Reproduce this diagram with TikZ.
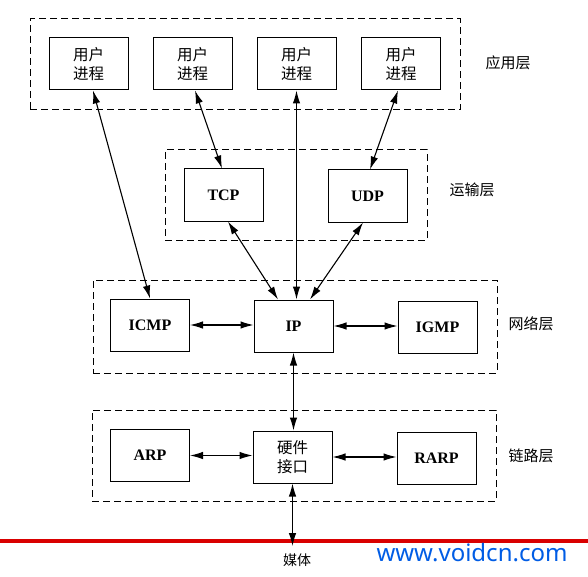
\documentclass[tikz,border=0pt]{standalone}
\usepackage{fontspec}
\setmainfont{Liberation Serif}
\newfontfamily\cjk{Noto Sans CJK SC}
\newfontfamily\webfont{Noto Sans}
\usetikzlibrary{arrows.meta,calc,positioning}

\tikzset{
  procbox/.style={draw, line width=1pt, minimum width=79pt, minimum height=52pt,
    inner sep=0pt, font=\bfseries\fontsize{16}{18}\selectfont},
  cnbox/.style={procbox, font=\cjk\fontsize{15.5}{19}\selectfont, align=center},
  layerbox/.style={draw, line width=1pt, dash pattern=on 7pt off 4pt, inner sep=0pt},
  layername/.style={font=\cjk\fontsize{15}{17}\selectfont},
  biarr/.style={{Latex[length=13pt,width=7.5pt]}-{Latex[length=13pt,width=7.5pt]}, line width=1.1pt}
}

\begin{document}
\begin{tikzpicture}[x=1pt,y=-1pt]
  \useasboundingbox (0,0) rectangle (588,577);

  % layer frames
  \node[layerbox, minimum width=430pt, minimum height=91pt] (app) at (245,64.5) {};
  \node[layerbox, minimum width=262pt, minimum height=90pt] (trans) at (296,195) {};
  \node[layerbox, minimum width=404pt, minimum height=93pt] (net) at (295,326.5) {};
  \node[layerbox, minimum width=404pt, minimum height=91pt] (link) at (294,455.5) {};

  \node[layername] (appname) at (508,63) {应用层};
  \node[layername] (transname) at (472,190) {运输层};
  \node[layername] (netname) at (531,324) {网络层};
  \node[layername] (linkname) at (531,456) {链路层};

  % user processes
  \foreach \n/\x in {1/88.5, 2/192.5, 3/296.5, 4/401} {
    \node[cnbox] (u\n) at (\x,64) {用户\\进程};
  }

  \node[procbox] (tcp) at (223.5,195) {TCP};
  \node[procbox] (udp) at (367.5,196) {UDP};

  \node[procbox] (icmp) at (150,325) {ICMP};
  \node[procbox] (ip) at (293.5,326) {IP};
  \node[procbox] (igmp) at (437.5,327) {IGMP};

  \node[procbox] (arp) at (150,455.5) {ARP};
  \node[cnbox] (hw) at (292.5,457) {硬件\\接口};
  \node[procbox] (rarp) at (436.5,458.5) {RARP};

  % media
  \draw[red!85!black, line width=3.5pt] (0,541) -- (588,541);
  \coordinate (medium) at (292.5,546);
  \node[font=\cjk\fontsize{14}{16}\selectfont] (mediumname) at (297,560) {媒体};
  \node[font=\webfont\fontsize{24}{26}\selectfont, text=blue!60!cyan!90!black] (mark) at (472,553) {www.voidcn.com};

  % connectors
  \draw[biarr] ([xshift=4.5pt]u1.south) -- (icmp.north);
  \draw[biarr] ([xshift=2.5pt]u2.south) -- ([xshift=-1.5pt]tcp.north);
  \draw[biarr] (u3.south) -- (u3.south |- ip.north);
  \draw[biarr] ([xshift=-3pt]u4.south) -- ([xshift=2.5pt]udp.north);
  \draw[biarr] ([xshift=4.5pt]tcp.south) -- ([xshift=-15.5pt]ip.north);
  \draw[biarr] ([xshift=-4.5pt]udp.south) -- ([xshift=16.5pt]ip.north);
  \draw[biarr] (icmp.east) -- (icmp.east -| ip.west);
  \draw[biarr] (ip.east) -- (ip.east -| igmp.west);
  \draw[biarr] (ip.south) -- (ip.south |- hw.north);
  \draw[biarr] (arp.east) -- (arp.east -| hw.west);
  \draw[biarr] (hw.east) -- (hw.east -| rarp.west);
  \draw[biarr] (hw.south) -- (medium);
\end{tikzpicture}
\end{document}
